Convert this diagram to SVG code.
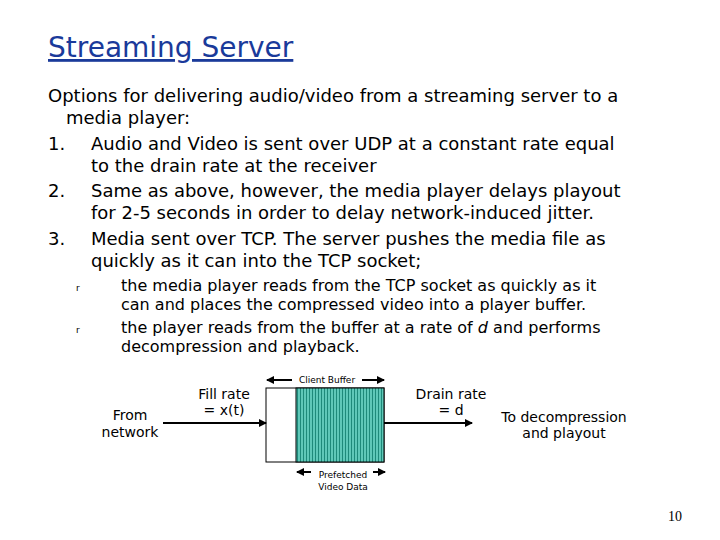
<svg xmlns="http://www.w3.org/2000/svg" width="720" height="540" viewBox="0 0 720 540">
<defs>
<style>
.t{font-family:"DejaVu Sans",sans-serif;fill:#000}
.b{font-size:18px}
.s{font-size:14px}
.xs{font-size:9px}
.ln{stroke:#000;stroke-width:2;fill:none}
</style>
<marker id="ah" markerWidth="8" markerHeight="8" refX="7" refY="4" orient="auto" markerUnits="userSpaceOnUse"><path d="M0,0 L8,4 L0,8 Z" fill="#000"/></marker>
<pattern id="vl" width="3" height="4" patternUnits="userSpaceOnUse"><rect width="3" height="4" fill="#5fc8b8"/><rect width="1" height="4" fill="#1e8a7a"/></pattern>
</defs>
<rect width="720" height="540" fill="#fff"/>
<text x="48" y="57" font-family="DejaVu Sans,sans-serif" font-size="28" fill="#1a3a9a" text-decoration="underline">Streaming Server</text>
<g class="t b">
<text x="48" y="102">Options for delivering audio/video from a streaming server to a</text>
<text x="66" y="124">media player:</text>
<text x="48" y="150">1.</text><text x="91" y="150">Audio and Video is sent over UDP at a constant rate equal</text>
<text x="91" y="172">to the drain rate at the receiver</text>
<text x="48" y="197">2.</text><text x="91" y="197">Same as above, however, the media player delays playout</text>
<text x="91" y="219">for 2-5 seconds in order to delay network-induced jitter.</text>
<text x="48" y="245">3.</text><text x="91" y="245">Media sent over TCP. The server pushes the media file as</text>
<text x="91" y="267">quickly as it can into the TCP socket;</text>
</g>
<g class="t" font-size="16">
<text x="76" y="291" font-size="9">r</text>
<text x="121" y="291">the media player reads from the TCP socket as quickly as it</text>
<text x="121" y="310">can and places the compressed video into a player buffer.</text>
<text x="76" y="333" font-size="9">r</text>
<text x="121" y="333">the player reads from the buffer at a rate of <tspan font-style="italic">d</tspan> and performs</text>
<text x="121" y="352">decompression and playback.</text>
</g>
<g id="buffer">
<rect x="266" y="388" width="118" height="74" fill="#fff" stroke="#000" stroke-width="1"/>
<rect x="296" y="388" width="88" height="74" fill="url(#vl)" stroke="#000" stroke-width="1"/>
</g>
<g id="labels" class="t">
<text x="130" y="420" class="s" text-anchor="middle">From</text>
<text x="130" y="437" class="s" text-anchor="middle">network</text>
<text x="224" y="399" class="s" text-anchor="middle">Fill rate</text>
<text x="224" y="415" class="s" text-anchor="middle">= x(t)</text>
<text x="451" y="399" class="s" text-anchor="middle">Drain rate</text>
<text x="451" y="415" class="s" text-anchor="middle">= d</text>
<text x="564" y="422" class="s" text-anchor="middle">To decompression</text>
<text x="564" y="438" class="s" text-anchor="middle">and playout</text>
<text x="327" y="383" class="xs" text-anchor="middle">Client Buffer</text>
<text x="343" y="478" class="xs" text-anchor="middle">Prefetched</text>
<text x="343" y="490" class="xs" text-anchor="middle">Video Data</text>
<text x="682" y="521" font-family="Liberation Serif,serif" font-size="14" text-anchor="end">10</text>
</g>
<g id="connectors">
<line class="ln" x1="292" y1="380" x2="267" y2="380" marker-end="url(#ah)"/>
<line class="ln" x1="362" y1="380" x2="384" y2="380" marker-end="url(#ah)"/>
<line class="ln" x1="163" y1="423" x2="266" y2="423" marker-end="url(#ah)"/>
<line class="ln" x1="384" y1="423" x2="472" y2="423" marker-end="url(#ah)"/>
<line class="ln" x1="311" y1="472" x2="297" y2="472" marker-end="url(#ah)"/>
<line class="ln" x1="373" y1="472" x2="385" y2="472" marker-end="url(#ah)"/>
</g>
</svg>
